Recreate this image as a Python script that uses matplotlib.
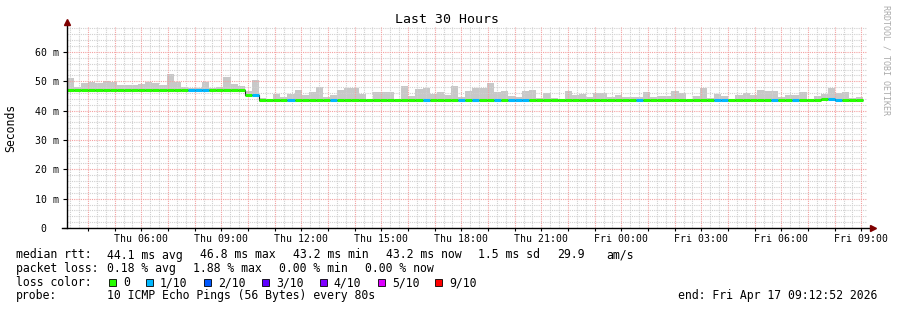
import numpy as np
import matplotlib
matplotlib.use("Agg")
import matplotlib.pyplot as plt
from matplotlib.patches import Rectangle

# time axis in hours counted from Thu 00:00
t_start = 3 + 12 / 60 + 52 / 3600
t_end = t_start + 30
bin_hours = 16 / 60

# upper edge of the smoke per 16 min bin (ms)
smoke_top = [
    51.1, 48.0, 49.5, 49.8, 49.5, 50.1, 49.8, 48.8, 48.8, 48.8,
    49.1, 49.8, 49.4, 48.8, 52.5, 49.8, 48.1, 47.7, 47.7, 49.8,
    47.7, 48.1, 51.5, 49.1, 48.4, 46.7, 50.5, 44.3, 43.6, 45.7,
    44.7, 45.7, 47.0, 45.3, 46.4, 48.1, 44.7, 45.3, 47.0, 47.7,
    47.7, 45.7, 44.0, 46.4, 46.4, 46.4, 44.0, 48.4, 45.0, 47.4,
    47.7, 45.7, 46.4, 45.3, 48.4, 44.7, 46.7, 47.7, 47.7, 49.4,
    46.4, 46.7, 45.0, 44.7, 46.7, 47.0, 44.3, 46.0, 44.3, 44.0,
    46.7, 45.3, 45.7, 44.7, 46.0, 46.0, 44.7, 45.3, 44.7, 44.7,
    44.7, 46.4, 44.7, 45.0, 45.0, 46.7, 46.0, 44.0, 45.0, 47.7,
    44.3, 45.7, 45.0, 44.0, 45.3, 46.0, 45.3, 47.0, 46.7, 46.7,
    44.7, 45.3, 45.3, 46.4, 44.0, 45.0, 45.7, 47.7, 46.0, 46.4,
    44.3, 44.7,
]

# median rtt per bin (ms)
median_ms = [
    46.9, 46.9, 47.1, 46.9, 46.9, 46.9, 46.9, 46.9, 46.9, 46.9,
    46.9, 46.9, 46.9, 46.9, 47.1, 46.9, 46.9, 46.9, 46.9, 46.9,
    46.9, 46.9, 46.9, 46.9, 46.9, 45.3, 45.3, 43.5, 43.5, 43.5,
    43.5, 43.5, 43.5, 43.5, 43.5, 43.5, 43.5, 43.5, 43.5, 43.5,
    43.5, 43.5, 43.5, 43.5, 43.5, 43.5, 43.5, 43.5, 43.5, 43.5,
    43.5, 43.5, 43.5, 43.5, 43.5, 43.5, 43.5, 43.5, 43.5, 43.5,
    43.5, 43.5, 43.5, 43.5, 43.5, 43.5, 43.5, 43.5, 43.5, 43.5,
    43.5, 43.5, 43.5, 43.5, 43.5, 43.5, 43.5, 43.5, 43.5, 43.5,
    43.5, 43.5, 43.5, 43.5, 43.5, 43.5, 43.5, 43.5, 43.5, 43.5,
    43.5, 43.5, 43.5, 43.5, 43.5, 43.5, 43.5, 43.5, 43.5, 43.5,
    43.5, 43.5, 43.5, 43.5, 43.5, 43.5, 44.0, 44.0, 43.7, 43.5,
    43.5, 43.5,
]

# lost pings out of 10 per bin
loss = [
    0, 0, 0, 0, 0, 0, 0, 0, 0, 0,
    0, 0, 0, 0, 0, 0, 0, 1, 1, 1,
    0, 0, 0, 0, 0, 0, 1, 0, 0, 0,
    0, 1, 0, 0, 0, 0, 0, 1, 0, 0,
    0, 0, 0, 0, 0, 0, 0, 0, 0, 0,
    1, 0, 0, 0, 0, 1, 0, 1, 0, 0,
    1, 0, 1, 1, 1, 0, 0, 0, 0, 0,
    0, 0, 0, 0, 0, 0, 0, 0, 0, 0,
    1, 0, 0, 0, 0, 0, 0, 0, 0, 0,
    0, 1, 1, 0, 0, 0, 0, 0, 0, 1,
    0, 0, 1, 0, 0, 0, 0, 1, 1, 0,
    0, 0,
]

loss_levels = [0, 1, 2, 3, 4, 5, 9]
loss_labels = ["0", "1/10", "2/10", "3/10", "4/10", "5/10", "9/10"]
loss_colors = ["#26ff00", "#00b8ff", "#0059ff", "#5e00ff", "#7e00ff", "#dd00ff", "#ff0000"]

tick_hours = [6, 9, 12, 15, 18, 21, 24, 27, 30, 33]
tick_labels = ["Thu 06:00", "Thu 09:00", "Thu 12:00", "Thu 15:00", "Thu 18:00",
               "Thu 21:00", "Fri 00:00", "Fri 03:00", "Fri 06:00", "Fri 09:00"]
y_ticks = [0, 10, 20, 30, 40, 50, 60]
y_labels = ["0  ", "10 m", "20 m", "30 m", "40 m", "50 m", "60 m"]

stats_rtt = ["median rtt:", "44.1 ms avg", "46.8 ms max", "43.2 ms min",
             "43.2 ms now", "1.5 ms sd", "29.9", "am/s"]
stats_loss = ["packet loss:", "0.18 % avg", "1.88 % max", "0.00 % min", "0.00 % now"]
probe_text = "10 ICMP Echo Pings (56 Bytes) every 80s"
end_text = "end: Fri Apr 17 09:12:52 2026"

plt.rcParams["font.family"] = ["DejaVu Sans Mono"]

W, H = 897, 310
fig = plt.figure(figsize=(W / 100, H / 100), dpi=100)
fig.patch.set_facecolor("white")
ax = fig.add_axes([67 / W, 82 / H, 800 / W, 201 / H])
ax.set_xlim(t_start, t_end)
ax.set_ylim(0, 68.5)
for s in ax.spines.values():
    s.set_visible(False)

# grid, drawn above the smoke like rrdtool does
dot = (0, (1, 1))
for v in np.arange(2, 69, 2):
    if v % 10:
        ax.axhline(v, color="#d0d0d0", lw=0.8, ls=dot, zorder=3)
m20 = np.arange(np.ceil(t_start * 3) / 3, t_end, 1 / 3)
for v in m20:
    if abs(v - round(v)) > 1e-6:
        ax.axvline(v, color="#d0d0d0", lw=0.8, ls=dot, zorder=3)
for v in range(10, 69, 10):
    ax.axhline(v, color="#f4a0a0", lw=0.8, ls=dot, zorder=3)
for v in range(int(np.ceil(t_start)), int(t_end) + 1):
    ax.axvline(v, color="#f4a0a0", lw=0.8, ls=dot, zorder=3)

edges = t_start + bin_hours * np.arange(len(median_ms) + 1)
med = np.array(median_ms)
top = np.array(smoke_top)
low = med - 0.4
ax.bar(edges[:-1], np.maximum(top - low, 0), bottom=low, width=bin_hours,
       align="edge", color="#c8c8c8", lw=0, zorder=2)

ax.stairs(med, edges, baseline=None, color="#202020", lw=0.8, zorder=4)
cols = [loss_colors[loss_levels.index(l)] for l in loss]
ax.hlines(med, edges[:-1], edges[1:], colors=cols, lw=2.2, capstyle="butt", zorder=5)

# axes with arrows
ax.plot([-0.006, 1.004], [0, 0], transform=ax.transAxes, color="black", lw=1, clip_on=False, zorder=6)
ax.plot([0, 0], [0, 1.015], transform=ax.transAxes, color="black", lw=1, clip_on=False, zorder=6)
ax.plot([1.007], [0], marker=">", ms=4, color="#7f0000", transform=ax.transAxes, clip_on=False, zorder=7)
ax.plot([0], [1.025], marker="^", ms=4, color="#7f0000", transform=ax.transAxes, clip_on=False, zorder=7)

ax.set_yticks(y_ticks)
ax.set_yticklabels(y_labels, fontsize=7.1)
ax.set_xticks(tick_hours)
ax.set_xticklabels(tick_labels, fontsize=7.1)
ax.set_xticks(range(int(np.ceil(t_start)), int(t_end) + 1), minor=True)
ax.tick_params(axis="y", length=3, width=0.8, pad=2.5)
ax.tick_params(axis="x", which="both", length=2, width=0.8, pad=2)

fig.text(447 / W, 1 - 19.5 / H, "Last 30 Hours", ha="center", va="center", fontsize=9.5)
fig.text(11 / W, 1 - 127.5 / H, "Seconds", rotation=90, ha="center", va="center", fontsize=8.3)
fig.text(886 / W, 1 - 60 / H, "RRDTOOL / TOBI OETIKER", rotation=270, ha="center",
         va="center", fontsize=6, color="#aaaaaa")

fs = 8.3
rtt_x = [16, 107.3, 200, 292.7, 385.7, 478.3, 557.3, 606.7]
for x, s in zip(rtt_x, stats_rtt):
    fig.text(x / W, 1 - 255 / H, s, va="center", fontsize=fs)
loss_x = [16, 107.3, 193.3, 278.7, 365.3]
for x, s in zip(loss_x, stats_loss):
    fig.text(x / W, 1 - 268.5 / H, s, va="center", fontsize=fs)

fig.text(16 / W, 1 - 282.5 / H, "loss color:", va="center", fontsize=fs)
bx = 109
for lab, c in zip(loss_labels, loss_colors):
    fig.patches.append(Rectangle((bx / W, 1 - 286 / H), 7 / W, 7 / H, transform=fig.transFigure,
                                 facecolor=c, edgecolor="black", lw=0.6))
    lx = bx + 14.3
    fig.text(lx / W, 1 - 282.5 / H, lab, va="center", fontsize=fs)
    bx = lx + len(lab) * 7.03 + 15.5

fig.text(16 / W, 1 - 296 / H, "probe:", va="center", fontsize=fs)
fig.text(107.3 / W, 1 - 296 / H, probe_text, va="center", fontsize=fs)
fig.text(678.3 / W, 1 - 296 / H, end_text, va="center", fontsize=fs)

fig.savefig("out.png", dpi=100, facecolor="white")
